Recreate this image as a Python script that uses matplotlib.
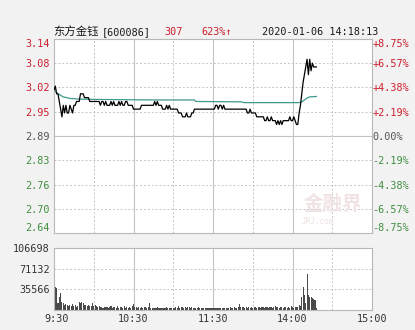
import matplotlib
matplotlib.use("Agg")
import matplotlib.pyplot as plt
from matplotlib.transforms import ScaledTranslation

plt.rcParams['font.family'] = ['DejaVu Sans Mono', 'Noto Sans CJK SC']

# prices per minute, 9:30 (index 0) .. 14:18 (index 198)
prices = [
    3.01, 3.02, 3.00, 3.00, 2.98, 2.96, 2.94, 2.97, 2.95, 2.97,
    2.95, 2.95, 2.97, 2.96, 2.95, 2.97, 2.97, 2.98, 2.98, 2.98,
    3.00, 3.00, 3.00, 2.99, 2.99, 2.99, 2.99, 2.98, 2.98, 2.98,
    2.98, 2.98, 2.98, 2.98, 2.98, 2.97, 2.98, 2.98, 2.97, 2.98,
    2.97, 2.97, 2.97, 2.98, 2.97, 2.98, 2.97, 2.97, 2.97, 2.98,
    2.97, 2.98, 2.97, 2.97, 2.98, 2.98, 2.97, 2.97, 2.97, 2.97,
    2.96, 2.96, 2.96, 2.96, 2.96, 2.96, 2.97, 2.97, 2.97, 2.97,
    2.97, 2.97, 2.97, 2.97, 2.97, 2.97, 2.98, 2.97, 2.98, 2.97,
    2.97, 2.97, 2.96, 2.96, 2.96, 2.97, 2.96, 2.97, 2.96, 2.96,
    2.96, 2.96, 2.96, 2.96, 2.95, 2.95, 2.95, 2.94, 2.94, 2.94,
    2.95, 2.94, 2.94, 2.94, 2.95, 2.95, 2.96, 2.96, 2.96, 2.96,
    2.96, 2.96, 2.96, 2.96, 2.96, 2.96, 2.96, 2.96, 2.96, 2.96,
    2.96, 2.96, 2.97, 2.97, 2.96, 2.97, 2.97, 2.96, 2.97, 2.96,
    2.96, 2.96, 2.96, 2.96, 2.96, 2.96, 2.96, 2.96, 2.96, 2.96,
    2.96, 2.96, 2.96, 2.96, 2.96, 2.96, 2.95, 2.95, 2.96, 2.95,
    2.95, 2.95, 2.95, 2.94, 2.94, 2.94, 2.94, 2.94, 2.94, 2.93,
    2.93, 2.94, 2.93, 2.93, 2.94, 2.93, 2.93, 2.93, 2.92, 2.93,
    2.92, 2.93, 2.92, 2.93, 2.93, 2.93, 2.93, 2.93, 2.94, 2.93,
    2.93, 2.94, 2.93, 2.92, 2.92, 2.95, 2.97, 3.00, 3.03, 3.05,
    3.07, 3.09, 3.05, 3.09, 3.06, 3.08, 3.07, 3.07, 3.07,
]

# average price line, read at key minutes
avg_minutes = [0, 3, 7, 12, 20, 40, 76, 106, 107, 142, 143, 185, 187, 189, 191, 193, 198]
avg_prices = [3.01, 3.00, 2.992, 2.988, 2.986, 2.985, 2.984, 2.984, 2.980, 2.979,
              2.977, 2.977, 2.979, 2.984, 2.989, 2.992, 2.993]

volume = [
    106698, 40100, 37300, 12000, 23000, 28700, 14300, 11500, 8600, 9500,
    8600, 7500, 9000, 7500, 9500, 6500, 8600, 5500, 7000, 14300,
    11500, 14300, 12500, 9000, 8600, 7500, 8600, 6500, 7000, 11500,
    6500, 8600, 7500, 5200, 6500, 4600, 5700, 4000, 6000, 4600,
    5700, 4000, 5200, 6300, 4000, 5700, 4600, 4000, 6300, 4000,
    5200, 4600, 4000, 6300, 4000, 4600, 3500, 5700, 4000, 6300,
    10300, 5700, 4600, 4000, 5200, 4000, 4600, 4000, 4600, 5200,
    4000, 4600, 12600, 4000, 3500, 4000, 3500, 4000, 4600, 3500,
    4000, 3500, 4000, 3500, 4000, 4600, 3500, 4000, 3500, 4000,
    3500, 4000, 5200, 4000, 6300, 4000, 5200, 4600, 4000, 5700,
    4000, 5200, 4600, 4000, 4600, 4000, 3500, 4000, 3500, 4600,
    3500, 4000, 3500, 3500, 4000, 3500, 3500, 4000, 3500, 3000,
    3500, 4000, 3500, 4000, 3500, 4000, 3500, 3500, 4000, 3500,
    4000, 3500, 4000, 4600, 3500, 4000, 5200, 4000, 4000, 4600,
    10300, 5700, 4600, 5200, 4000, 4600, 4000, 5200, 4000, 4600,
    4000, 4600, 5200, 4000, 4600, 5700, 4000, 4600, 5200, 4000,
    4600, 5700, 4000, 4600, 5200, 4000, 4600, 6300, 4600, 5200,
    4000, 4600, 5700, 4000, 5200, 4600, 4000, 4600, 4000, 6300,
    5200, 4000, 4600, 5700, 5000, 8600, 7000, 22400, 40100, 25000,
    12000, 61400, 25800, 22400, 22000, 20600, 19000, 18000, 4000,
]

pre_close = 2.89
pct_levels = [8.75, 6.57, 4.38, 2.19, 0.0, -2.19, -4.38, -6.57, -8.75]
price_labels = ['3.14', '3.08', '3.02', '2.95', '2.89', '2.83', '2.76', '2.70', '2.64']
pct_labels = ['+8.75%', '+6.57%', '+4.38%', '+2.19%', '0.00%', '-2.19%', '-4.38%', '-6.57%', '-8.75%']
vol_ticks = [35566, 71132, 106698]
vol_labels = ['35566', '71132', '106698']
time_ticks = [0, 60, 120, 180, 240]
time_labels = ['9:30', '10:30', '11:30', '14:00', '15:00']

RED = '#cc1f2d'
GREEN = '#3f8f3f'
GRAY = '#555555'
GRID = '#c4c4c4'
W, H = 415, 330


def label_color(p):
    if p > 0:
        return RED
    if p < 0:
        return GREEN
    return GRAY


fig = plt.figure(figsize=(W / 100, H / 100), dpi=100, facecolor='#f2f2f2')
ax = fig.add_axes([54 / W, (H - 233) / H, 318 / W, 194 / H], facecolor='white')
axv = fig.add_axes([54 / W, (H - 310) / H, 318 / W, 62 / H], facecolor='white')

levels = [pre_close * (1 + p / 100) for p in pct_levels]
minutes = list(range(len(prices)))

for a in (ax, axv):
    a.set_xlim(0, 240)
    for m in (30, 90, 150, 210):
        a.axvline(m, color=GRID, lw=0.7, ls=(0, (2, 2)), zorder=0)
    for m in (60, 120, 180):
        a.axvline(m, color=GRID, lw=0.8, zorder=0)
    for s in a.spines.values():
        s.set_color('#b8b8b8')
        s.set_linewidth(0.8)

for lv, p in zip(levels, pct_levels):
    if p == 0:
        ax.axhline(lv, color=GRID, lw=0.8, zorder=0)
    elif abs(p) < 8:
        ax.axhline(lv, color=GRID, lw=0.7, ls=(0, (2, 2)), zorder=0)

# faint watermark (axes fraction coords)
ax.text(0.876, 0.15, '金融界', fontsize=14, color='#f1e3e3', ha='center', va='center',
        family=['Noto Sans CJK SC'], weight='bold', transform=ax.transAxes, zorder=1)
ax.text(0.83, 0.06, 'JRJ.com', fontsize=5.5, color='#f0e2e2', ha='center', va='center',
        transform=ax.transAxes, zorder=1)

ax.plot(avg_minutes, avg_prices, color='#3f9a8e', lw=0.9, zorder=2)
ax.plot(minutes, prices, color='black', lw=0.9, zorder=3)
ax.set_ylim(levels[-1], levels[0])
ax.set_xticks([])
ax.set_yticks(levels, labels=price_labels)
ax.tick_params(axis='y', length=0, pad=3, labelsize=7.3)
for t, p in zip(ax.get_yticklabels(), pct_levels):
    t.set_color(label_color(p))
ax.get_yticklabels()[0].set_va('top')
ax.get_yticklabels()[-1].set_va('bottom')

ax2 = ax.twinx()
ax2.set_ylim(ax.get_ylim())
ax2.set_yticks(levels, labels=pct_labels)
ax2.tick_params(axis='y', length=0, pad=0.5, labelsize=7.3)
for s in ax2.spines.values():
    s.set_visible(False)
for t, p in zip(ax2.get_yticklabels(), pct_levels):
    t.set_color(label_color(p))
ax2.get_yticklabels()[0].set_va('top')
ax2.get_yticklabels()[-1].set_va('bottom')

# volume panel
axv.bar(minutes, volume, width=0.8, color='#4a4a4a', linewidth=0, zorder=2)
for v in vol_ticks[:2]:
    axv.axhline(v, color=GRID, lw=0.7, ls=(0, (2, 2)), zorder=0)
axv.set_ylim(0, vol_ticks[-1])
axv.set_yticks(vol_ticks, labels=vol_labels)
axv.set_xticks(time_ticks, labels=time_labels)
axv.tick_params(length=0, labelsize=7.3, colors='#333333')
axv.tick_params(axis='y', pad=3)
axv.tick_params(axis='x', pad=3)
first = axv.get_xticklabels()[0]
first.set_transform(first.get_transform() + ScaledTranslation(3 / 100, 0, fig.dpi_scale_trans))

# header line
ty = 1 - 32 / H
fig.text(53 / W, ty, '东方金钰', fontsize=8.2, color='#1a1a1a', va='center',
         family=['Noto Sans CJK SC'])
fig.text(102 / W, ty, '[600086]', fontsize=7.3, color='#1a1a1a', va='center')
fig.text(164 / W, ty, '307', fontsize=7.3, color=RED, va='center')
fig.text(201 / W, ty, '623%↑', fontsize=7.3, color=RED, va='center')
fig.text(262 / W, ty, '2020-01-06 14:18:13', fontsize=7.3, color='#1a1a1a', va='center')

fig.savefig('out.png', dpi=100, facecolor=fig.get_facecolor())
